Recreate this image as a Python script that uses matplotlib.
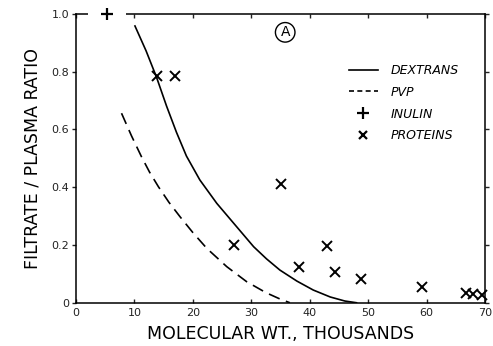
import matplotlib
matplotlib.use("Agg")
import matplotlib.pyplot as plt
from matplotlib.lines import Line2D

# ---- data ----
dextran_mw = [10.1, 12.0, 13.8, 15.5, 17.2, 18.9, 21.2, 24.1, 27.5, 30.4, 32.6, 34.9,
              37.8, 40.6, 43.5, 46.0, 48.0]
dextran_ratio = [0.958, 0.872, 0.78, 0.681, 0.59, 0.508, 0.425, 0.344, 0.263, 0.194, 0.152,
                 0.113, 0.075, 0.044, 0.02, 0.006, 0.0]

pvp_mw = [7.8, 9.5, 11.2, 12.6, 14.1, 15.9, 17.8, 20.0, 22.4, 25.8, 29.2, 32.5, 34.8, 36.6]
pvp_ratio = [0.656, 0.578, 0.506, 0.452, 0.402, 0.348, 0.298, 0.243, 0.188, 0.125, 0.073,
             0.035, 0.014, 0.0]

inulin_mw = [5.3]
inulin_ratio = [1.0]

protein_mw = [13.9, 16.9, 27.1, 35.1, 38.1, 43.0, 44.4, 48.8, 59.2, 66.8, 68.0, 69.5]
protein_ratio = [0.785, 0.785, 0.20, 0.41, 0.125, 0.197, 0.108, 0.082, 0.056, 0.033, 0.03, 0.027]

x_ticks = [0, 10, 20, 30, 40, 50, 60, 70]
y_ticks = [0, 0.2, 0.4, 0.6, 0.8, 1.0]
y_tick_labels = ["0", "0.2", "0.4", "0.6", "0.8", "1.0"]

# ---- figure ----
fig = plt.figure(figsize=(4.93, 3.46), dpi=100)
ax = fig.add_axes([0.154, 0.125, 0.83, 0.835])

ax.plot(dextran_mw, dextran_ratio, color="black", lw=1.2)
ax.plot(pvp_mw, pvp_ratio, color="black", lw=1.2, linestyle=(0, (7, 4)))

# white gap in the top frame around the inulin point
ax.plot(inulin_mw, inulin_ratio, marker="_", color="white", markersize=28,
        mew=3, linestyle="none", clip_on=False, zorder=3)
ax.plot(inulin_mw, inulin_ratio, marker="+", color="black", markersize=8,
        mew=1.6, linestyle="none", clip_on=False, zorder=4)
ax.plot(protein_mw, protein_ratio, marker="x", color="black", markersize=7,
        mew=1.4, linestyle="none", clip_on=False, zorder=4)

ax.set_xlim(0, 70)
ax.set_ylim(0, 1.0)
ax.set_xticks(x_ticks)
ax.set_yticks(y_ticks)
ax.set_yticklabels(y_tick_labels)

for s in ax.spines.values():
    s.set_linewidth(1.1)

ax.tick_params(axis="x", direction="in", top=True, bottom=True, length=3,
               width=1, labelsize=8, pad=4, colors="#222222")
ax.tick_params(axis="y", direction="out", left=True, right=True, length=3,
               width=1, labelsize=8, pad=2, colors="#222222")

ax.set_xlabel("MOLECULAR WT., THOUSANDS", fontsize=12.5, labelpad=5)
ax.set_ylabel("FILTRATE / PLASMA RATIO", fontsize=12.5, labelpad=7)

# circled panel letter
ax.text(35.8, 0.936, "A", fontsize=10, ha="center", va="center",
        bbox=dict(boxstyle="circle,pad=0.2", fc="white", ec="black", lw=1))

handles = [
    Line2D([], [], color="black", lw=1.2),
    Line2D([], [], color="black", lw=1.2, linestyle=(0, (3, 2))),
    Line2D([], [], color="black", marker="+", markersize=8, mew=1.6, linestyle="none"),
    Line2D([], [], color="black", marker="x", markersize=6, mew=1.6, linestyle="none"),
]
labels = ["DEXTRANS", "PVP", "INULIN", "PROTEINS"]
ax.legend(handles, labels, loc="upper left", bbox_to_anchor=(0.64, 0.865),
          frameon=False, handlelength=2.3, handletextpad=1.0, labelspacing=0.7,
          prop=dict(size=9, style="italic"))

fig.savefig("out.png", dpi=100)
